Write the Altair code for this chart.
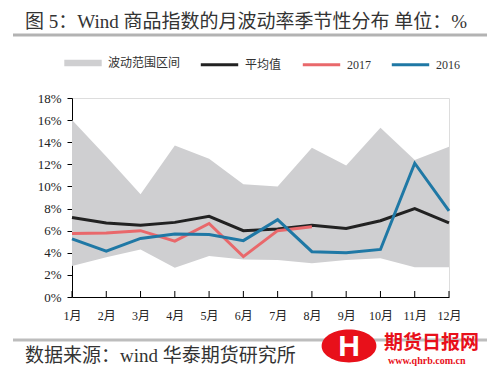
import altair as alt
import pandas as pd

months = [f"{i}月" for i in range(1, 13)]
band_high = [16.0, 12.7, 9.3, 13.7, 12.5, 10.2, 10.0, 13.5, 11.9, 15.3, 12.4, 13.6]
band_low = [2.8, 3.6, 4.3, 2.65, 3.7, 3.4, 3.35, 3.05, 3.35, 3.5, 2.7, 2.7]
avg = [7.2, 6.7, 6.5, 6.75, 7.3, 6.0, 6.15, 6.5, 6.2, 6.9, 8.0, 6.7]
y2017 = [5.75, 5.8, 6.0, 5.05, 6.65, 3.65, 6.0, 6.35]
y2016 = [5.25, 4.15, 5.3, 5.7, 5.65, 5.1, 7.0, 4.1, 4.0, 4.3, 12.1, 7.8]
y_ticks = [0, 2, 4, 6, 8, 10, 12, 14, 16, 18]

series_names = ["平均值", "2017", "2016"]
series_colors = ["#222222", "#e9686b", "#1f78a5"]
band_name = "波动范围区间"
band_color = "#cfcfd1"

title_text = "图 5：Wind 商品指数的月波动率季节性分布  单位：%"
source_text = "数据来源：wind  华泰期货研究所"

FONT = "'Liberation Serif', 'Noto Sans CJK SC'"
CJK = "'Noto Sans CJK SC'"
W, H = 377, 199

band_df = pd.DataFrame({"month": months, "low": [v / 100 for v in band_low],
                        "high": [v / 100 for v in band_high], "k": band_name})
rows = []
for name, vals in zip(series_names, [avg, y2017, y2016]):
    for m, v in zip(months, vals):
        rows.append({"month": m, "value": v / 100, "series": name})
line_df = pd.DataFrame(rows)

xaxis = alt.Axis(title=None, labelAngle=0, ticks=False, domainColor="#000",
                 labelFont=FONT, labelFontSize=12, labelColor="#222",
                 labelPadding=13, grid=False, labelOverlap=False)
yaxis = alt.Axis(title=None, format=".0%", values=[v / 100 for v in y_ticks],
                 tickColor="#000", domainColor="#000", tickSize=5,
                 labelFont=FONT, labelFontSize=13, labelColor="#222",
                 labelPadding=6, grid=False, labelOverlap=False, labelFlush=False)
yscale = alt.Scale(domain=[0, 0.18], nice=False)
xscale = alt.Scale(type="point", padding=0)

area = alt.Chart(band_df).mark_area(opacity=1).encode(
    x=alt.X("month:N", sort=months, scale=xscale, axis=xaxis),
    y=alt.Y("low:Q", scale=yscale, axis=yaxis),
    y2="high:Q",
    fill=alt.Fill("k:N", scale=alt.Scale(domain=[band_name], range=[band_color]),
                  legend=alt.Legend(title=None, orient="none", legendX=-8, legendY=-54,
                                    symbolType="M-1,-0.17H1V0.17H-1Z", symbolSize=1400,
                                    symbolStrokeWidth=0, labelFont=CJK, labelFontSize=12,
                                    labelColor="#333", labelOffset=6)),
)

lines = alt.Chart(line_df).mark_line(strokeWidth=3).encode(
    x=alt.X("month:N", sort=months, scale=xscale, axis=xaxis),
    y=alt.Y("value:Q", scale=yscale, axis=yaxis),
    stroke=alt.Stroke("series:N", scale=alt.Scale(domain=series_names, range=series_colors),
                      sort=series_names,
                      legend=alt.Legend(title=None, orient="none", legendX=127, legendY=-54,
                                        direction="horizontal", symbolType="stroke",
                                        symbolSize=1400, symbolStrokeWidth=3,
                                        labelFont=FONT, labelFontSize=12, labelColor="#333",
                                        labelOffset=5, columnPadding=14)),
    order=alt.Order("series_order:Q"),
).transform_calculate(series_order="indexof(['平均值','2017','2016'], datum.series)")

ticks = alt.Chart(band_df).mark_rule(color="#000", strokeWidth=1).encode(
    x=alt.X("month:N", sort=months, scale=xscale, axis=xaxis), y=alt.value(H - 6), y2=alt.value(H))

title = alt.Chart(pd.DataFrame({"t": [title_text]})).mark_text(
    font=FONT, fontSize=19, color="#333", align="left", baseline="middle").encode(
    text="t:N", x=alt.value(-47), y=alt.value(-76))

top_rule = alt.Chart(pd.DataFrame({"a": [0]})).mark_rule(color="#b3b3b3", strokeWidth=3).encode(
    x=alt.value(-59), x2=alt.value(415), y=alt.value(-63))
bottom_rule = alt.Chart(pd.DataFrame({"a": [0]})).mark_rule(color="#bdbdbd", strokeWidth=3).encode(
    x=alt.value(-59), x2=alt.value(415), y=alt.value(242))

source = alt.Chart(pd.DataFrame({"t": [source_text]})).mark_text(
    font=FONT, fontSize=19, color="#333", align="left", baseline="middle").encode(
    text="t:N", x=alt.value(-47), y=alt.value(258))

logo = alt.Chart(pd.DataFrame({"a": [0]})).mark_point(
    shape="M-1,0A1,0.6 0 1,0 1,0A1,0.6 0 1,0 -1,0Z", size=3000, filled=True,
    color="#e8101a", opacity=1).encode(x=alt.value(277), y=alt.value(248))
logo_h = alt.Chart(pd.DataFrame({"t": ["H"]})).mark_text(
    font="'Liberation Sans'", fontSize=30, fontWeight="bold", color="white",
    baseline="middle").encode(text="t:N", x=alt.value(277), y=alt.value(249))
brand = alt.Chart(pd.DataFrame({"t": ["期货日报网"]})).mark_text(
    font=CJK, fontSize=19, fontWeight="bold", color="#e8101a", align="left",
    baseline="middle").encode(text="t:N", x=alt.value(312), y=alt.value(245))
url = alt.Chart(pd.DataFrame({"t": ["www.qhrb.com.cn"]})).mark_text(
    font=FONT, fontSize=10, fontWeight="bold", color="#e8101a", align="left",
    baseline="middle").encode(text="t:N", x=alt.value(316), y=alt.value(263))

chart = alt.layer(area, lines, ticks, title, top_rule, bottom_rule, source, logo, logo_h,
                  brand, url).resolve_scale(fill="independent", stroke="independent").properties(
    width=W, height=H,
    autosize=alt.AutoSizeParams(type="none"),
    padding={"left": 64, "top": 90, "right": 40, "bottom": 71},
).configure_view(stroke=None).configure(background="white")

chart.save("out.html", embed_options={"renderer": "svg", "actions": False})
